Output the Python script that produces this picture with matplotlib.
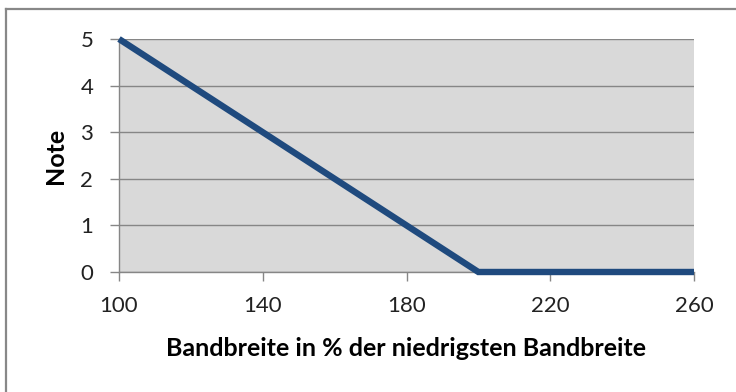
import matplotlib
matplotlib.use("Agg")
import matplotlib.pyplot as plt
from matplotlib.lines import Line2D

# Bewertungskurve: Note in Abhängigkeit der Bandbreite
bandbreite = [100, 200, 260]
note = [5, 0, 0]

x_ticks = [100, 140, 180, 220, 260]
y_ticks = [0, 1, 2, 3, 4, 5]

grau = "#868686"
blau = "#1F4A7E"

plt.rcParams["font.family"] = ["Lato", "DejaVu Sans"]

fig = plt.figure(figsize=(7.36, 3.92), dpi=100)
ax = fig.add_axes([119 / 736, 1 - 272 / 392, (694 - 119) / 736, (272 - 39) / 392])
ax.set_facecolor("#D9D9D9")

ax.plot(bandbreite, note, color=blau, lw=4.6, solid_capstyle="butt",
        solid_joinstyle="miter", clip_on=False, zorder=5)

ax.set_xlim(100, 260)
ax.set_ylim(0, 5)
ax.set_xticks(x_ticks)
ax.set_yticks(y_ticks)
ax.yaxis.grid(True, color=grau, lw=1)
ax.set_axisbelow(True)

for s in ["top", "right"]:
    ax.spines[s].set_visible(False)
for s in ["left", "bottom"]:
    ax.spines[s].set_color(grau)
    ax.spines[s].set_linewidth(1)

ax.tick_params(axis="both", colors=grau, width=1, length=6.5, labelsize=16,
               labelcolor="#222222")
ax.tick_params(axis="x", pad=11)
ax.tick_params(axis="y", pad=12)

ax.set_xlabel("Bandbreite in % der niedrigsten Bandbreite", fontsize=18,
              fontweight="bold", labelpad=15)
ax.set_ylabel("Note", fontsize=18, fontweight="bold", labelpad=10)

# Rahmen um das Diagramm
fig.add_artist(Line2D([6 / 736, 6 / 736], [0, 1 - 9 / 392], color="#888888",
                      lw=1.6, transform=fig.transFigure))
fig.add_artist(Line2D([6 / 736, 1], [1 - 9 / 392, 1 - 9 / 392], color="#888888",
                      lw=1.6, transform=fig.transFigure))

fig.savefig("out.png", dpi=100)
